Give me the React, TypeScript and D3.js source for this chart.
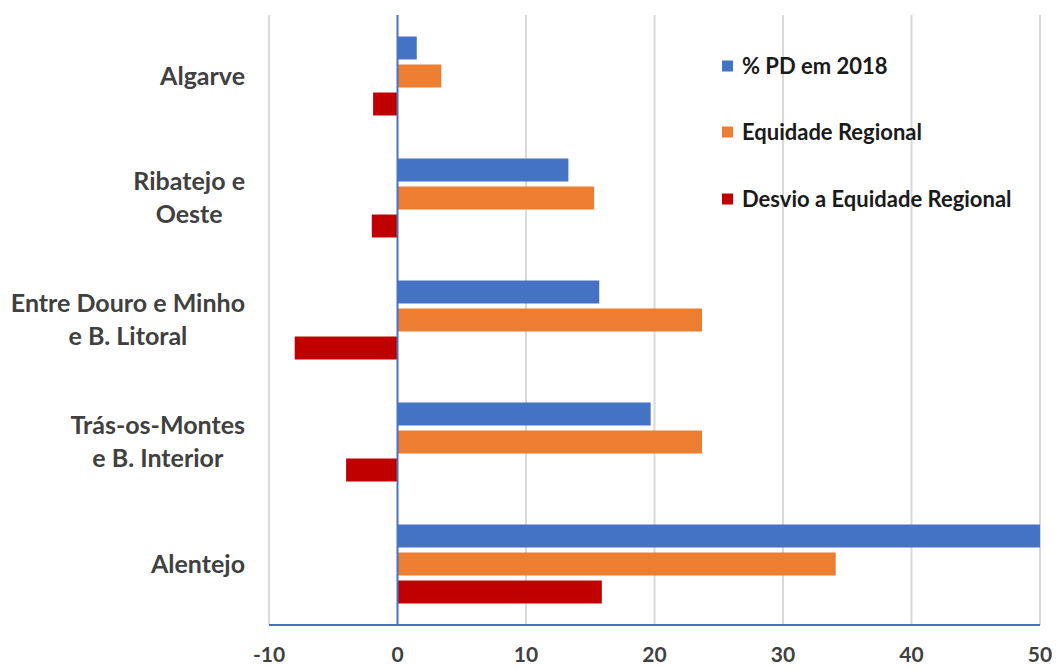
import { useEffect, useRef } from 'react';
import * as d3 from 'd3';

const regions = ['Algarve', 'Ribatejo e|Oeste', 'Entre Douro e Minho|e B. Litoral', 'Trás-os-Montes|e B. Interior', 'Alentejo'];
const seriesNames = ['% PD em 2018', 'Equidade Regional', 'Desvio a Equidade Regional'];
const pd2018 = [1.5, 13.3, 15.7, 19.7, 50];
const equidade = [3.4, 15.3, 23.7, 23.7, 34.1];
const desvio = [-1.9, -2.0, -8.0, -4.0, 15.9];
const xTicks = [-10, 0, 10, 20, 30, 40, 50];
const colors = ['#4472C4', '#ED7D31', '#C00000'];

export default function App() {
  const svgRef = useRef<SVGSVGElement>(null);

  useEffect(() => {
    const width = 1058;
    const height = 669;
    const svg = d3.select(svgRef.current).attr('width', width).attr('height', height);
    svg.selectAll('*').remove();

    const x = d3.scaleLinear().domain([-10, 50]).range([269, 1040]);
    const y = d3.scaleBand().domain(regions).range([15, 625]);
    const inner = d3.scaleBand().domain(seriesNames).range([0, y.bandwidth()])
      .paddingInner(0.179).paddingOuter(0.768);

    // gridlines
    svg.append('g')
      .selectAll('line')
      .data(xTicks.filter(t => t !== 0))
      .enter()
      .append('line')
      .attr('x1', d => x(d)).attr('x2', d => x(d))
      .attr('y1', 15).attr('y2', 625)
      .attr('stroke', '#d9d9d9')
      .attr('stroke-width', 2);

    const allSeries = [pd2018, equidade, desvio];
    allSeries.forEach((vals, si) => {
      svg.append('g')
        .selectAll('rect')
        .data(vals)
        .enter()
        .append('rect')
        .attr('x', d => x(Math.min(0, d)))
        .attr('width', d => Math.abs(x(d) - x(0)))
        .attr('y', (d, i) => y(regions[i])! + inner(seriesNames[si])!)
        .attr('height', inner.bandwidth())
        .attr('fill', colors[si]);
    });

    // axes lines
    svg.append('line')
      .attr('x1', x(0)).attr('x2', x(0))
      .attr('y1', 15).attr('y2', 625)
      .attr('stroke', '#4472C4').attr('stroke-width', 2);
    svg.append('line')
      .attr('x1', x(-10)).attr('x2', x(50))
      .attr('y1', 625).attr('y2', 625)
      .attr('stroke', '#4472C4').attr('stroke-width', 2);

    // tick labels
    svg.append('g')
      .selectAll('text')
      .data(xTicks)
      .enter()
      .append('text')
      .attr('x', d => x(d))
      .attr('y', 655)
      .attr('dy', '0.35em')
      .attr('text-anchor', 'middle')
      .style('font-family', 'Lato')
      .style('font-weight', 'bold')
      .style('font-size', '21px')
      .attr('fill', '#404040')
      .text(d => d);

    // category labels: lines centred on each other, block right-aligned
    const labelRight = 245;
    const lh = 33;
    svg.append('g')
      .selectAll('g')
      .data(regions)
      .enter()
      .append('g')
      .each(function (d) {
        const g = d3.select(this);
        const lines = d.split('|');
        const cy = y(d)! + y.bandwidth() / 2;
        const texts = lines.map((ln, i) => g.append('text')
          .attr('y', cy + (i - (lines.length - 1) / 2) * lh)
          .attr('dy', '0.35em')
          .attr('text-anchor', 'middle')
          .style('font-family', 'Lato')
          .style('font-weight', 'bold')
          .style('font-size', '25px')
          .attr('fill', '#404040')
          .text(ln));
        const maxW = d3.max(texts, t => (t.node() as SVGTextElement).getComputedTextLength()) || 0;
        texts.forEach(t => t.attr('x', labelRight - maxW / 2));
      });

    // legend
    const legendY = [66, 132, 199];
    const lg = svg.append('g')
      .selectAll('g')
      .data(seriesNames)
      .enter()
      .append('g')
      .attr('transform', (d, i) => `translate(722,${legendY[i]})`);
    lg.append('rect')
      .attr('x', 0).attr('y', -5.5)
      .attr('width', 11).attr('height', 11)
      .attr('fill', (d, i) => colors[i]);
    lg.append('text')
      .attr('x', 20)
      .attr('dy', '0.35em')
      .style('font-family', 'Lato')
      .style('font-weight', 'bold')
      .style('font-size', '22px')
      .attr('fill', '#1a1a1a')
      .text(d => d);
  }, []);

  return (
    <svg ref={svgRef} style={{ position: 'absolute', left: 0, top: 0, background: '#fff' }}></svg>
  );
}
